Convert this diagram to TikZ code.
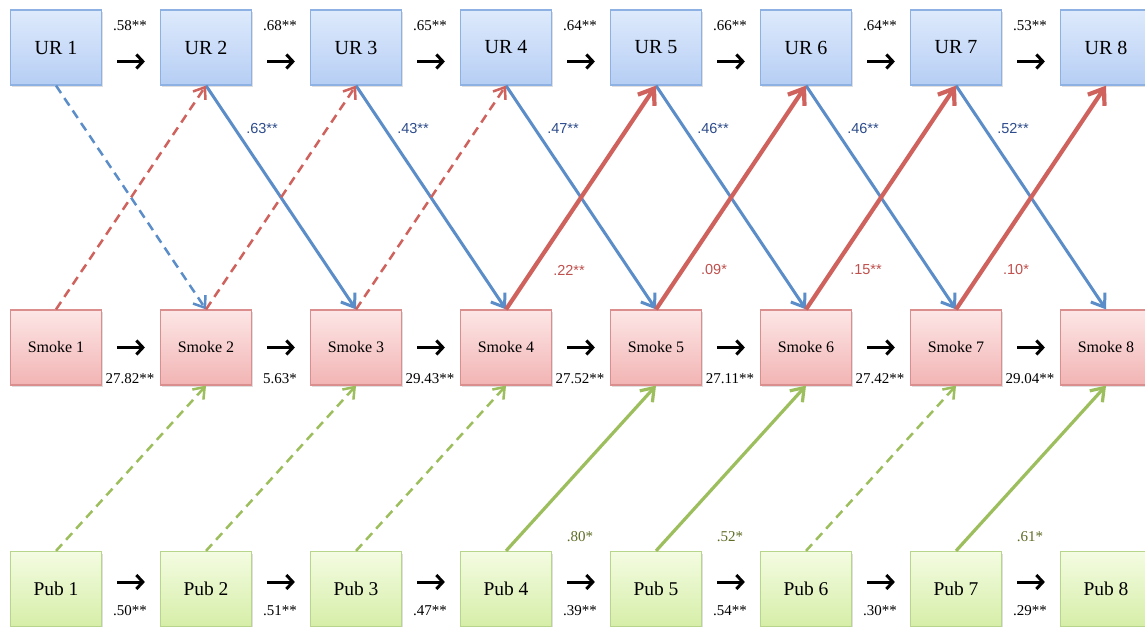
\documentclass[tikz,border=0pt]{standalone}
\usepackage{fontspec}
\setmainfont{Liberation Serif}
\newfontfamily\lsans{Liberation Sans}
\usetikzlibrary{arrows.meta,shadows}
\definecolor{urT}{HTML}{DEEAFC}
\definecolor{urM}{HTML}{B6CEF4}
\definecolor{urD}{HTML}{8DB1E2}
\definecolor{smT}{HTML}{FDE6E6}
\definecolor{smM}{HTML}{F2B4B4}
\definecolor{smD}{HTML}{DA8E8E}
\definecolor{pbT}{HTML}{F4FCE2}
\definecolor{pbM}{HTML}{D6EEA8}
\definecolor{pbD}{HTML}{B7D68C}
\definecolor{lblue}{HTML}{5B8DC9}
\definecolor{lred}{HTML}{CF625D}
\definecolor{lgreen}{HTML}{9DBE5C}
\definecolor{tblue}{HTML}{2D4C8C}
\definecolor{tred}{HTML}{C0504D}
\definecolor{tgreen}{HTML}{5E6D26}
\tikzset{
  box/.style={rectangle, minimum width=91bp, minimum height=75bp, line width=1.2bp, inner sep=0pt,
    drop shadow={opacity=0.25, shadow xshift=1.5bp, shadow yshift=-2bp}},
  ur/.style={box, draw=urD, top color=urT, bottom color=urM, font=\fontsize{20bp}{24bp}\selectfont},
  sm/.style={box, draw=smD, top color=smT, bottom color=smM, font=\fontsize{16bp}{19bp}\selectfont},
  pb/.style={box, draw=pbD, top color=pbT, bottom color=pbM, font=\fontsize{19.5bp}{23bp}\selectfont},
  nxt/.style={draw=black, line width=3bp, shorten <=15bp, shorten >=15bp,
    -{Straight Barb[length=6.5bp,width=14bp]}},
  lbl/.style={font=\fontsize{15bp}{18bp}\selectfont, inner sep=0pt},
  slbl/.style={font=\lsans\fontsize{14.5bp}{17bp}\selectfont, inner sep=0pt},
  bl/.style={draw=lblue, line width=3bp, -{Straight Barb[length=12bp,width=17bp]}},
  bld/.style={draw=lblue, line width=2.5bp, dash pattern=on 9bp off 6bp, -{Straight Barb[length=10bp,width=15bp]}},
  rl/.style={draw=lred, line width=4.2bp, -{Straight Barb[length=14bp,width=20bp]}},
  rld/.style={draw=lred, line width=2.5bp, dash pattern=on 9bp off 6bp, -{Straight Barb[length=10bp,width=15bp]}},
  gl/.style={draw=lgreen, line width=3.2bp, -{Straight Barb[length=12bp,width=17bp]}},
  gld/.style={draw=lgreen, line width=2.5bp, dash pattern=on 9bp off 6bp, -{Straight Barb[length=10bp,width=15bp]}},
}
\begin{document}
\begin{tikzpicture}[x=1bp,y=-1bp]
\useasboundingbox[fill=white] (0,0) rectangle (1145,627);
\foreach \i in {1,...,8}{
  \pgfmathsetmacro\xx{56+150*(\i-1)}
  \node[ur] (u\i) at (\xx,47.5) {UR \i};
  \node[sm] (s\i) at (\xx,347.5) {Smoke \i};
  \node[pb] (p\i) at (\xx,589) {Pub \i};
}
% horizontal arrows
\foreach \i/\j in {1/2,2/3,3/4,4/5,5/6,6/7,7/8}{
  \draw[nxt] ([yshift=-14bp]u\i.east) -- ([yshift=-14bp]u\j.west);
  \draw[nxt] (s\i.east) -- (s\j.west);
  \draw[nxt] ([yshift=7bp]p\i.east) -- ([yshift=7bp]p\j.west);
}
% blue cross paths
\foreach \i/\j/\st in {1/2/bld,2/3/bl,3/4/bl,4/5/bl,5/6/bl,6/7/bl,7/8/bl}{
  \draw[\st] (u\i.south) -- (s\j.north);
}
% red cross paths
\foreach \i/\j/\st in {1/2/rld,2/3/rld,3/4/rld,4/5/rl,5/6/rl,6/7/rl,7/8/rl}{
  \draw[\st] (s\i.north) -- (u\j.south);
}
% green cross paths
\foreach \i/\j/\st in {1/2/gld,2/3/gld,3/4/gld,4/5/gl,5/6/gl,6/7/gld,7/8/gl}{
  \draw[\st] (p\i.north) -- (s\j.south);
}
% labels: stability
\foreach \n/\x/\t in {1/130/.58**,2/280/.68**,3/430/.65**,4/580/.64**,5/730/.66**,6/880/.64**,7/1030/.53**}{
  \node[lbl] (ta\n) at (\x,26) {\t};
}
\foreach \n/\x/\t in {1/130/27.82**,2/280/5.63*,3/430/29.43**,4/580/27.52**,5/730/27.11**,6/880/27.42**,7/1030/29.04**}{
  \node[lbl] (sa\n) at (\x,379) {\t};
}
\foreach \n/\x/\t in {1/130/.50**,2/280/.51**,3/430/.47**,4/580/.39**,5/730/.54**,6/880/.30**,7/1030/.29**}{
  \node[lbl] (pa\n) at (\x,611) {\t};
}
% cross labels
\foreach \n/\x/\t in {2/262/.63**,3/413/.43**,4/563/.47**,5/713/.46**,6/863/.46**,7/1013/.52**}{
  \node[slbl,text=tblue] (bla\n) at (\x,129) {\t};
}
\foreach \n/\x/\t in {4/569/.22**,5/714/.09*,6/866/.15**,7/1016/.10*}{
  \node[slbl,text=tred] (rla\n) at (\x,270) {\t};
}
\foreach \n/\x/\t in {4/580/.80*,5/730/.52*,7/1030/.61*}{
  \node[lbl,text=tgreen] (gla\n) at (\x,537) {\t};
}
\end{tikzpicture}
\end{document}
